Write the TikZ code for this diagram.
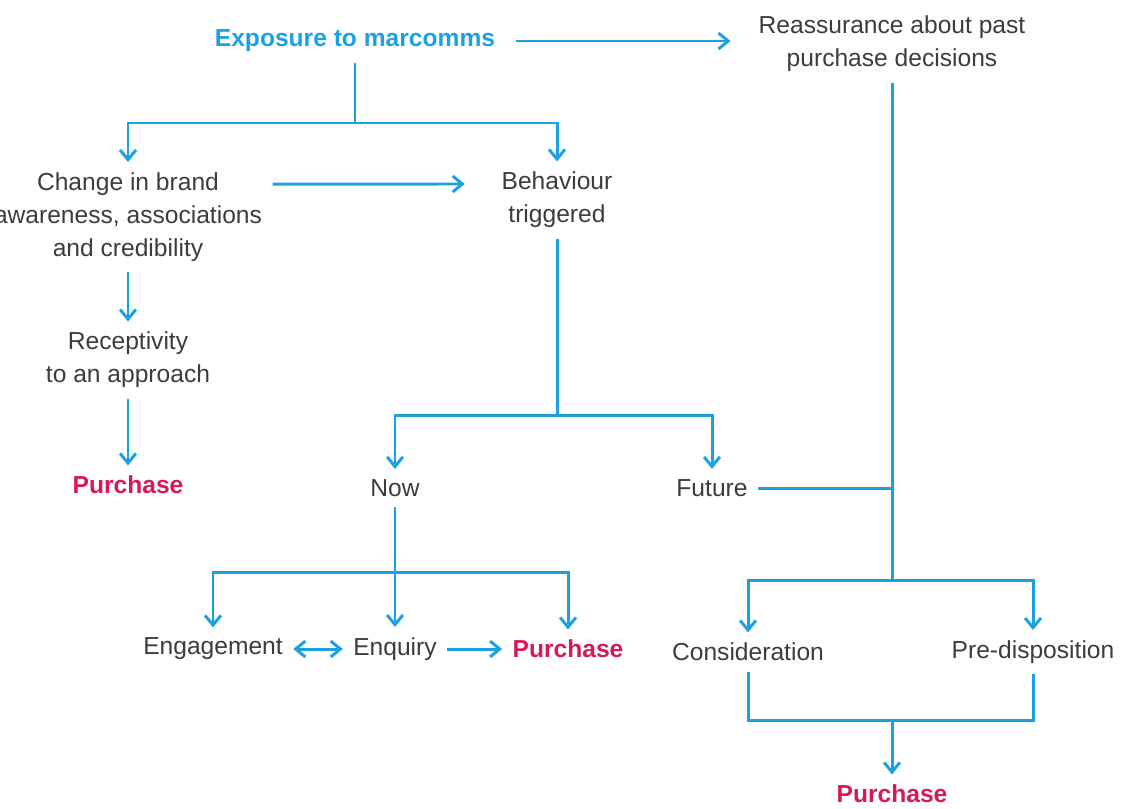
\documentclass[tikz,border=0pt]{standalone}
\usepackage{fontspec}
\setmainfont{Liberation Sans}
\usetikzlibrary{arrows.meta}
\definecolor{mcblue}{RGB}{27,161,226}
\definecolor{mcred}{RGB}{214,25,90}
\definecolor{mcgrey}{RGB}{60,60,60}
\tikzstyle{txt} = [inner sep=0pt, outer sep=6pt, align=center, text=mcgrey, font=\fontsize{14}{18.8}\selectfont]
\tikzstyle{buy} = [txt, text=mcred, font=\fontsize{14}{18.8}\selectfont\bfseries]
\tikzstyle{link} = [draw=mcblue, line width=1.7pt]
\tikzstyle{arrow} = [link,->,>={Straight Barb[length=5.5pt,width=9pt]}]

\begin{document}
\begin{tikzpicture}[x=0.02cm, y=-0.02cm]
    \useasboundingbox (0,0) rectangle (1125,808);
    \node (expo) [txt, text=mcblue, font=\fontsize{14}{18.8}\selectfont\bfseries]
        at (355,41) {Exposure to marcomms};
    \node (reass) [txt] at (892,44) {Reassurance about past\\purchase decisions};
    \node (change) [txt] at (128,217)
        {Change in brand\\awareness, associations\\and credibility};
    \node (behav) [txt] at (557,200) {Behaviour\\triggered};
    \node (recep) [txt] at (128,360) {Receptivity\\to an approach};
    \node (buy1) [buy] at (128,485) {Purchase};
    \node (now) [txt] at (395,488) {Now};
    \node (future) [txt] at (712,488) {Future};
    \node (engage) [txt] at (213,649) {Engagement};
    \node (enq) [txt] at (395,649) {Enquiry};
    \node (buy2) [buy] at (568,649) {Purchase};
    \node (consid) [txt] at (748,652) {Consideration};
    \node (predisp) [txt] at (1033,652) {Pre-disposition};
    \node (buy3) [buy] at (892,794) {Purchase};

    % branch points
    \coordinate (split1) at (355,123);
    \coordinate (split2) at (557,415);
    \coordinate (split3) at (892,580);
    \coordinate (split4) at (395,572);
    \coordinate (join) at (892,720);

    \draw [arrow, shorten <=6pt, shorten >=10pt] (expo) -- (reass.west |- expo);
    \draw [link] (expo) -- (split1);
    \draw [arrow] (split1) -| (change);
    \draw [arrow] (split1) -| (behav);
    \draw [arrow, shorten >=15pt] ([yshift=0.66cm]change.east)
        -- ([yshift=0.32cm]behav.west);
    \draw [arrow] (change) -- (recep);
    \draw [arrow] (recep) -- (buy1);

    \draw [link] (behav) -- (split2);
    \draw [arrow] (split2) -| (now);
    \draw [arrow] (split2) -| (future);

    \draw [link] (reass) -- (split3);
    \draw [link] (future) -- (future -| reass.south);
    \draw [arrow] (split3) -| (consid);
    \draw [arrow] (split3) -| (predisp);

    \draw [arrow] (now) -- (enq);
    \draw [arrow] (split4) -| (engage);
    \draw [arrow] (split4) -| (buy2);
    \draw [arrow, <->] (engage) -- (enq);
    \draw [arrow] (enq) -- (buy2);

    \draw [link] (consid) |- (join) -| (predisp);
    \draw [arrow] (join) -- (buy3);
\end{tikzpicture}
\end{document}
